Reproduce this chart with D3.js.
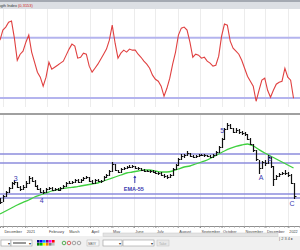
<!DOCTYPE html>
<html lang="en">
<head>
<meta charset="UTF-8">
<title>RSI and price with EMA-55</title>
<script src="https://cdn.jsdelivr.net/npm/d3@7"></script>
<style>
body { margin: 0; background: #fff; }
svg { display: block; font-family: Arial, "Liberation Sans", sans-serif; }
</style>
</head>
<body>
<div id="chart"></div>
<script>

// ---- data ----
// bars every 4 days from 27 Nov 2020: [high, low, close]
var barStart = new Date(2020, 10, 27);
var barStep = 4;
var bars = [
  [29.0,27.5,28.0],[29.75,28.0,29.5],[30.75,29.25,30.5],[31.75,30.25,31.5],[33.0,31.25,32.75],
  [33.5,32.25,33.0],[33.0,31.5,31.75],[32.0,30.75,31.25],[32.25,31.0,31.75],[33.25,31.5,32.75],
  [34.5,32.5,34.0],[34.25,33.0,33.25],[33.5,31.75,32.0],[32.25,31.0,31.25],[31.5,30.25,30.5],
  [31.0,30.0,30.5],[31.5,30.25,31.25],[31.75,31.0,31.5],[31.75,30.75,31.0],[31.5,30.75,31.25],
  [31.5,30.75,31.0],[31.75,30.75,31.5],[32.25,31.25,32.0],[33.0,31.75,32.75],[33.25,32.5,32.75],
  [33.25,32.5,33.0],[33.75,32.75,33.5],[33.75,32.75,33.0],[33.75,32.75,33.5],[34.25,33.25,34.0],
  [34.5,33.75,34.25],[34.25,33.0,33.25],[33.5,32.5,32.75],[33.75,32.5,33.5],[33.75,33.0,33.25],
  [33.5,32.75,33.25],[34.5,33.25,34.25],[35.0,34.0,34.75],[36.0,34.5,35.75],[38.0,35.5,37.5],
  [37.5,35.75,36.0],[36.0,35.25,35.5],[36.5,35.25,36.25],[36.75,36.0,36.5],[37.0,36.25,36.75],
  [37.25,36.5,36.75],[37.25,36.5,37.0],[37.0,36.25,36.5],[36.75,36.0,36.5],[36.5,35.75,36.0],
  [36.25,35.5,35.75],[36.0,35.5,35.75],[36.0,35.25,35.75],[36.0,35.25,35.5],[35.75,35.0,35.25],
  [35.5,34.75,35.25],[35.5,34.5,34.75],[35.0,34.0,34.5],[34.75,33.75,34.25],[35.0,34.0,34.75],
  [36.5,34.5,36.25],[37.5,36.0,37.25],[39.0,37.0,38.75],[40.0,38.5,39.5],[40.0,39.0,39.75],
  [40.75,39.5,40.25],[40.25,39.25,39.5],[39.75,39.0,39.25],[39.75,39.0,39.5],[40.0,39.25,39.75],
  [40.0,39.5,39.75],[40.0,39.25,39.75],[39.75,39.25,39.5],[39.75,39.0,39.25],[40.0,39.0,39.75],
  [40.75,39.5,40.5],[42.0,40.25,41.75],[44.0,41.5,43.75],[46.5,43.5,46.25],[47.75,46.0,47.25],
  [47.5,46.25,46.5],[46.5,45.25,45.5],[46.5,45.25,46.0],[46.25,45.0,45.5],[45.75,44.75,45.25],
  [45.5,44.5,45.0],[45.0,43.5,43.75],[44.0,42.25,42.5],[42.5,40.5,41.0],[41.0,38.25,38.75],
  [38.5,35.0,36.5],[38.25,36.25,38.0],[38.5,37.0,37.75],[39.75,37.5,39.25],[39.25,36.5,37.0],
  [37.0,32.0,33.75],[34.75,33.5,34.5],[35.25,34.25,35.0],[35.5,34.75,35.25],[36.0,34.75,35.25],
  [35.5,34.25,34.75],[35.0,32.5,32.75],[32.75,28.75,29.5]
];

// EMA-55 every 8 days from the same start
var emaStep = 8;
var ema55 = [
  25.0,25.75,26.5,27.25,27.9,28.5,29.25,29.75,30.25,30.75,
  31.1,31.4,31.6,31.75,32.0,32.25,32.5,32.75,33.25,33.75,
  34.25,34.75,35.25,35.5,35.75,36.0,36.0,35.75,35.5,35.5,
  35.75,36.25,36.75,37.0,37.5,38.0,38.5,39.25,40.0,40.75,
  41.4,41.9,42.25,42.5,42.0,41.1,40.25,39.5,38.75,38.0,
  37.25,36.5
];

// RSI, same dates as the bars
var rsi = [
  68.3,75.0,77.0,80.3,81.0,69.7,55.0,59.0,61.0,67.0,
  71.7,60.4,53.7,47.1,43.8,37.8,43.8,53.7,49.1,50.4,
  51.7,53.1,54.4,58.4,62.4,65.7,64.4,56.4,57.0,59.7,
  59.0,51.1,47.1,49.7,52.4,55.7,59.0,62.4,68.3,78.3,
  66.3,56.4,59.7,61.7,60.4,62.4,61.7,61.7,59.0,57.0,
  54.4,52.4,49.7,45.1,42.4,41.1,37.8,31.1,36.4,43.1,
  52.4,60.4,71.7,76.3,77.0,75.0,67.0,57.0,59.0,58.4,
  56.4,57.0,54.4,53.1,51.1,51.7,57.7,71.0,79.0,78.3,
  67.7,63.0,61.0,59.0,55.0,49.7,44.4,41.1,37.8,27.8,
  35.1,41.8,43.1,35.1,30.5,35.1,39.1,40.4,41.1,49.7,
  43.8,41.8,29.8
];

var rsiLevels = [70, 30];
var priceLevels = [40, 37.75, 30, 29];

var waveLabels = [
  { text: "3", date: new Date(2020, 11, 19), price: 34.0 },
  { text: "4", date: new Date(2021, 0, 24), price: 28.5 },
  { text: "5", date: new Date(2021, 9, 2), price: 46.0 },
  { text: "A", date: new Date(2021, 10, 25), price: 34.25 },
  { text: "B", date: new Date(2021, 11, 7), price: 39.0 },
  { text: "C", date: new Date(2022, 0, 7), price: 27.75 }
];
var emaNote = { text: "EMA-55", date: new Date(2021, 5, 1), price: 31.25, arrowFrom: 32.75, arrowTo: 34.5 };

var monthNames = ["January", "February", "March", "April", "May", "June", "July",
  "August", "September", "October", "November", "December"];

// ---- layout ----
var w = 300, h = 250;
var rsiTop = 9, rsiBottom = 107;
var priceTop = 114, priceBottom = 226;

var svg = d3.select("#chart").append("svg")
  .attr("width", w)
  .attr("height", h);

var x = d3.scaleTime()
  .domain([new Date(2020, 10, 27), new Date(2022, 0, 18)])
  .range([0, w]);

var yRsi = d3.scaleLinear().domain([24, 89]).range([rsiBottom, rsiTop]);
var yPrice = d3.scaleLinear().domain([22, 50]).range([priceBottom, priceTop]);

function barDate(i) { return d3.timeDay.offset(barStart, i * barStep); }
function emaDate(i) { return d3.timeDay.offset(barStart, i * emaStep); }

var months = d3.timeMonth.range(new Date(2020, 11, 1), new Date(2022, 0, 2));

// header strip (title is cut at the left edge as in the source window)
svg.append("rect").attr("x", 0).attr("y", 0).attr("width", w).attr("height", 9).attr("fill", "#dcdfe4");
svg.append("rect").attr("x", 0).attr("y", 0).attr("width", w).attr("height", 2).attr("fill", "#a4a9b2");
svg.append("text").attr("x", 17).attr("y", 6.5).attr("text-anchor", "end")
  .attr("font-size", 4).attr("fill", "#333").text("Relative Strength Index");
svg.append("text").attr("x", 18).attr("y", 6.5)
  .attr("font-size", 4).attr("fill", "#d02020").text("(0,3153)");

// vertical month grid in both panels
[[rsiTop, rsiBottom], [priceTop, priceBottom]].forEach(function(p) {
  svg.append("g").selectAll("line")
    .data(months)
    .enter()
    .append("line")
    .attr("x1", function(d) { return Math.round(x(d)) + 0.5; })
    .attr("x2", function(d) { return Math.round(x(d)) + 0.5; })
    .attr("y1", p[0])
    .attr("y2", p[1])
    .attr("stroke", "#ececec")
    .attr("stroke-width", 1);
});

// RSI levels
svg.append("g").selectAll("line")
  .data(rsiLevels)
  .enter()
  .append("line")
  .attr("x1", 0).attr("x2", w)
  .attr("y1", function(d) { return yRsi(d); })
  .attr("y2", function(d) { return yRsi(d); })
  .attr("stroke", "#b4b4ee")
  .attr("stroke-width", 2);

// RSI line
svg.append("path")
  .datum(rsi)
  .attr("fill", "none")
  .attr("stroke", "#e04040")
  .attr("stroke-width", 1.1)
  .attr("d", d3.line()
    .x(function(d, i) { return x(barDate(i)); })
    .y(function(d) { return yRsi(d); }));

// price panel top border
svg.append("line").attr("x1", 0).attr("x2", w).attr("y1", priceTop).attr("y2", priceTop)
  .attr("stroke", "#a0a0a0").attr("stroke-width", 2);

// price levels
svg.append("g").selectAll("line")
  .data(priceLevels)
  .enter()
  .append("line")
  .attr("x1", 0).attr("x2", w)
  .attr("y1", function(d) { return yPrice(d); })
  .attr("y2", function(d) { return yPrice(d); })
  .attr("stroke", "#8c8cdc")
  .attr("stroke-width", 1.5);

// EMA-55
svg.append("path")
  .datum(ema55)
  .attr("fill", "none")
  .attr("stroke", "#40d040")
  .attr("stroke-width", 1.3)
  .attr("d", d3.line()
    .curve(d3.curveMonotoneX)
    .x(function(d, i) { return x(emaDate(i)); })
    .y(function(d) { return yPrice(d); }));

// OHLC bars
var bar = svg.append("g").selectAll("g")
  .data(bars)
  .enter()
  .append("g");

bar.append("line")
  .attr("x1", function(d, i) { return Math.round(x(barDate(i))) + 0.5; })
  .attr("x2", function(d, i) { return Math.round(x(barDate(i))) + 0.5; })
  .attr("y1", function(d) { return yPrice(d[0]); })
  .attr("y2", function(d) { return yPrice(d[1]); })
  .attr("stroke", "#111")
  .attr("stroke-width", 1.2);

bar.append("line")
  .attr("x1", function(d, i) { return Math.round(x(barDate(i))) + 1; })
  .attr("x2", function(d, i) { return Math.round(x(barDate(i))) + 2.5; })
  .attr("y1", function(d) { return Math.round(yPrice(d[2])) + 0.5; })
  .attr("y2", function(d) { return Math.round(yPrice(d[2])) + 0.5; })
  .attr("stroke", "#111")
  .attr("stroke-width", 1);

// wave labels
svg.append("g").selectAll("text")
  .data(waveLabels)
  .enter()
  .append("text")
  .attr("x", function(d) { return x(d.date); })
  .attr("y", function(d) { return yPrice(d.price) + 2.5; })
  .attr("text-anchor", "middle")
  .attr("font-size", 7)
  .attr("fill", "#3a3ab0")
  .text(function(d) { return d.text; });

// EMA-55 note with arrow
var ax = x(emaNote.date) + 1;
svg.append("line")
  .attr("x1", ax).attr("x2", ax)
  .attr("y1", yPrice(emaNote.arrowFrom)).attr("y2", yPrice(emaNote.arrowTo))
  .attr("stroke", "#3a3ab0").attr("stroke-width", 1);
svg.append("path")
  .attr("d", "M" + (ax - 1.5) + "," + (yPrice(emaNote.arrowTo) + 2) +
    "L" + ax + "," + (yPrice(emaNote.arrowTo) - 0.5) +
    "L" + (ax + 1.5) + "," + (yPrice(emaNote.arrowTo) + 2) + "Z")
  .attr("fill", "#3a3ab0");
svg.append("text")
  .attr("x", x(emaNote.date))
  .attr("y", yPrice(emaNote.price) + 2)
  .attr("text-anchor", "middle")
  .attr("font-size", 5.5)
  .attr("font-weight", "bold")
  .attr("fill", "#3a3ab0")
  .text(emaNote.text);

// x axis: month names, year number on January
var xAxis = d3.axisBottom(x)
  .tickValues(months)
  .tickSize(2)
  .tickFormat(function(d) {
    return d.getMonth() === 0 ? String(d.getFullYear()) : monthNames[d.getMonth()];
  });

var gx = svg.append("g")
  .attr("transform", "translate(0," + priceBottom + ")")
  .call(xAxis);
gx.select(".domain").attr("stroke", "#909090");
gx.selectAll(".tick line").attr("stroke", "#909090");
gx.selectAll(".tick text")
  .attr("font-size", 3.8)
  .attr("fill", "#444")
  .attr("text-anchor", "start")
  .attr("dx", 1)
  .attr("dy", "0.5em");

// minor weekly ticks
svg.append("g").selectAll("line")
  .data(d3.timeMonday.range(new Date(2020, 10, 27), new Date(2022, 0, 18)))
  .enter()
  .append("line")
  .attr("x1", function(d) { return Math.round(x(d)) + 0.5; })
  .attr("x2", function(d) { return Math.round(x(d)) + 0.5; })
  .attr("y1", priceBottom)
  .attr("y2", priceBottom + 1.5)
  .attr("stroke", "#a0a0a0");

// scroll strip and toolbar
svg.append("rect").attr("x", 0).attr("y", 236).attr("width", w).attr("height", 14).attr("fill", "#f0f0f0");
svg.append("rect").attr("x", 103).attr("y", 233).attr("width", 175).attr("height", 3.5)
  .attr("fill", "#e4e4e4").attr("stroke", "#c8c8c8").attr("stroke-width", 0.5);
svg.append("text").attr("x", 279).attr("y", 240).attr("font-size", 4).attr("fill", "#555").text("| 2 3 4 ▸");

var boxes = [[1, 10], [11, 21], [103, 19], [123, 31]];
svg.append("g").selectAll("rect")
  .data(boxes)
  .enter()
  .append("rect")
  .attr("x", function(d) { return d[0]; })
  .attr("y", 240)
  .attr("width", function(d) { return d[1]; })
  .attr("height", 6)
  .attr("fill", "#fff")
  .attr("stroke", "#9a9a9a")
  .attr("stroke-width", 0.6);
svg.append("line").attr("x1", 13).attr("x2", 26).attr("y1", 243).attr("y2", 243).attr("stroke", "#333");
svg.append("g").selectAll("text")
  .data([8, 29, 119, 151])
  .enter()
  .append("text")
  .attr("x", function(d) { return d; })
  .attr("y", 245)
  .attr("font-size", 4)
  .attr("fill", "#333")
  .text("▾");

// colour palette
var palette = ["#000080", "#0000ff", "#00a0ff", "#800080", "#ff00ff", "#ff0000",
  "#008000", "#00c000", "#ffff00", "#ff8000", "#808080", "#c0c0c0"];
svg.append("g").selectAll("rect")
  .data(palette)
  .enter()
  .append("rect")
  .attr("x", function(d, i) { return 37 + (i % 6) * 3; })
  .attr("y", function(d, i) { return 240 + Math.floor(i / 6) * 3; })
  .attr("width", 2.6)
  .attr("height", 2.6)
  .attr("fill", function(d) { return d; });

// small icons
var icons = ["#30a030", "#d04040", "#909090", "#909090"];
svg.append("g").selectAll("circle")
  .data(icons)
  .enter()
  .append("circle")
  .attr("cx", function(d, i) { return 64 + i * 5; })
  .attr("cy", 243)
  .attr("r", 1.8)
  .attr("fill", "none")
  .attr("stroke", function(d) { return d; })
  .attr("stroke-width", 0.8);

svg.append("rect").attr("x", 87).attr("y", 240).attr("width", 12).attr("height", 6)
  .attr("fill", "#f8f8f8").attr("stroke", "#b0b0b0").attr("stroke-width", 0.5);
svg.append("text").attr("x", 88).attr("y", 244.5).attr("font-size", 3.5).attr("fill", "#555").text("SBIY");

svg.append("rect").attr("x", 157).attr("y", 240).attr("width", 12).attr("height", 6)
  .attr("fill", "#e8e8e8").attr("stroke", "#c0c0c0").attr("stroke-width", 0.5);
svg.append("text").attr("x", 159).attr("y", 244.5).attr("font-size", 3.5).attr("fill", "#aaa").text("Take");

</script>
</body>
</html>
